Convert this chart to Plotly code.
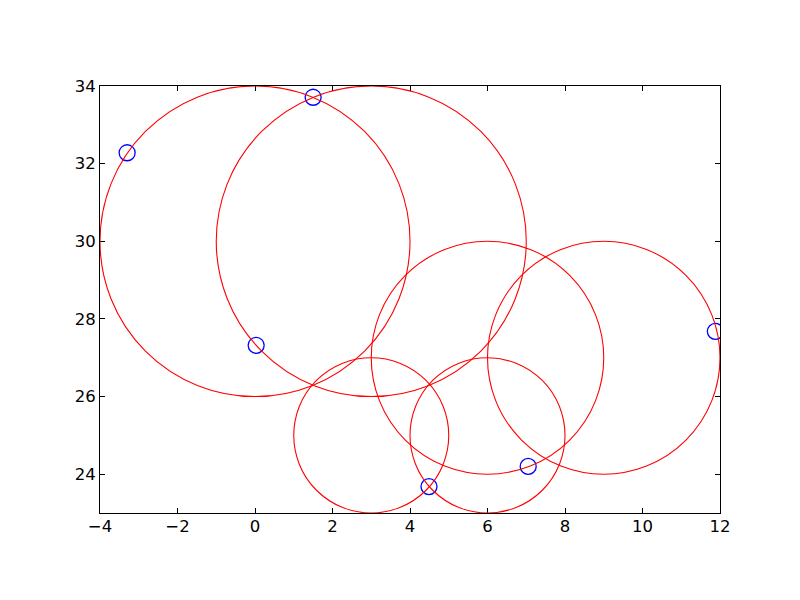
import plotly.graph_objects as go

# Red circles: centers and radii
circle_cx = [0, 3, 6, 9, 3, 6]
circle_cy = [30, 30, 27, 27, 25, 25]
circle_r = [4, 4, 3, 3, 2, 2]

# Blue open points
point_x = [-3.30, 1.50, 0.03, 4.49, 7.05, 11.88]
point_y = [32.28, 33.71, 27.32, 23.68, 24.20, 27.68]

x_ticks = [-4, -2, 0, 2, 4, 6, 8, 10, 12]
y_ticks = [24, 26, 28, 30, 32, 34]

fig = go.Figure()

shapes = []
for cx, cy, r in zip(circle_cx, circle_cy, circle_r):
    shapes.append(dict(type="circle", xref="x", yref="y",
                       x0=cx - r, x1=cx + r, y0=cy - r, y1=cy + r,
                       line=dict(color="red", width=1.1), fillcolor="rgba(0,0,0,0)",
                       layer="above"))

fig.add_trace(go.Scatter(
    x=point_x, y=point_y, mode="markers",
    marker=dict(symbol="circle-open", size=16, color="blue", line=dict(width=1.3)),
    cliponaxis=True, showlegend=False))

axis_common = dict(showgrid=False, zeroline=False, showline=True, linecolor="black",
                   linewidth=1, mirror="ticks", ticks="inside", ticklen=5,
                   tickcolor="black", tickfont=dict(family="DejaVu Sans", size=16.5, color="black"))

fig.update_layout(
    width=800, height=600,
    paper_bgcolor="white", plot_bgcolor="white",
    margin=dict(l=92, r=88, t=78, b=95),
    shapes=shapes,
    xaxis=dict(range=[-4, 12], tickvals=x_ticks, ticktext=[str(v).replace("-", "\u2212") for v in x_ticks],
               ticklabelstandoff=-2, **axis_common),
    yaxis=dict(range=[23, 34], tickvals=y_ticks, ticktext=[str(v) for v in y_ticks], **axis_common),
)

fig.write_html("out.html")
